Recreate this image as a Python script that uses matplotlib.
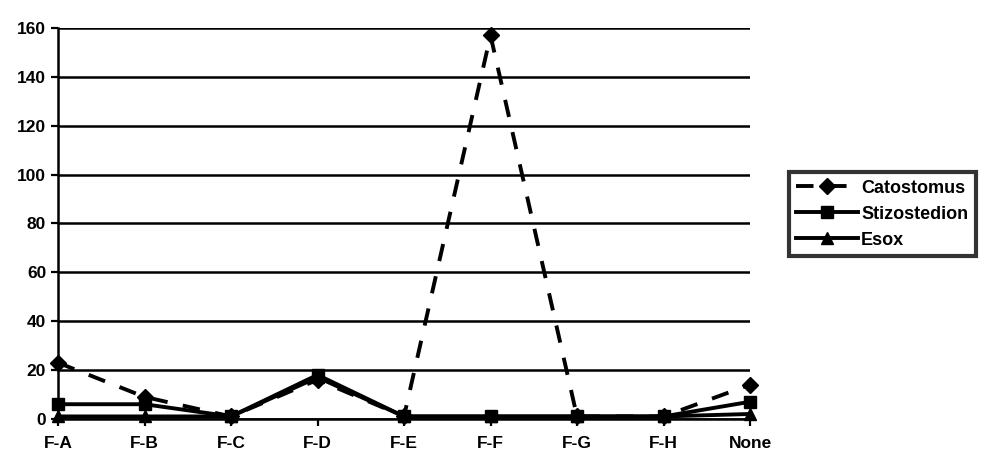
import matplotlib.pyplot as plt
import numpy as np

plt.rcParams['font.family'] = ['Liberation Sans', 'DejaVu Sans']
plt.rcParams['font.weight'] = 'bold'

categories = ["F-A", "F-B", "F-C", "F-D", "F-E", "F-F", "F-G", "F-H", "None"]
catostomus = [23, 9, 1, 16, 1, 157, 1, 1, 14]
stizostedion = [6, 6, 1, 18, 1, 1, 1, 1, 7]
esox = [1, 1, 1, 17, 1, 1, 1, 1, 2]

fig = plt.figure(figsize=(10, 4.76), dpi=100, facecolor='white')
ax = fig.add_axes([0.058, 0.12, 0.692, 0.821])

x = np.arange(len(categories))

ax.plot(x, esox, color='black', linewidth=2.8, marker='^', markersize=8,
        label='Esox', clip_on=False, zorder=3)
ax.plot(x, stizostedion, color='black', linewidth=2.8, marker='s', markersize=9,
        label='Stizostedion', clip_on=False, zorder=4)
ax.plot(x, catostomus, color='black', linewidth=2.8, linestyle=(0, (4.5, 4)),
        marker='D', markersize=8, label='Catostomus', clip_on=False, zorder=5)

ax.set_xlim(0, len(categories) - 1)
ax.set_ylim(0, 160)
ax.set_yticks(range(0, 161, 20))
ax.set_xticks(x)
ax.set_xticklabels(categories)
ax.yaxis.grid(True, color='black', linewidth=1.8)
ax.set_axisbelow(True)

for side in ['top', 'right']:
    ax.spines[side].set_visible(False)
for side in ['left', 'bottom']:
    ax.spines[side].set_linewidth(1.8)

ax.tick_params(axis='both', which='both', direction='out', length=5, width=1.6,
               labelsize=12.5, colors='black')
ax.tick_params(axis='x', pad=7)

handles, labels = ax.get_legend_handles_labels()
leg = fig.legend(handles[::-1], labels[::-1], loc='center left',
                 bbox_to_anchor=(0.780, 0.55), frameon=True, fancybox=False,
                 fontsize=13, handlelength=3.4, borderpad=0.4, labelspacing=0.5,
                 handletextpad=0.2)
leg.get_frame().set_edgecolor('black')
leg.get_frame().set_linewidth(3)

fig.savefig('out.png', dpi=100, facecolor='white')
